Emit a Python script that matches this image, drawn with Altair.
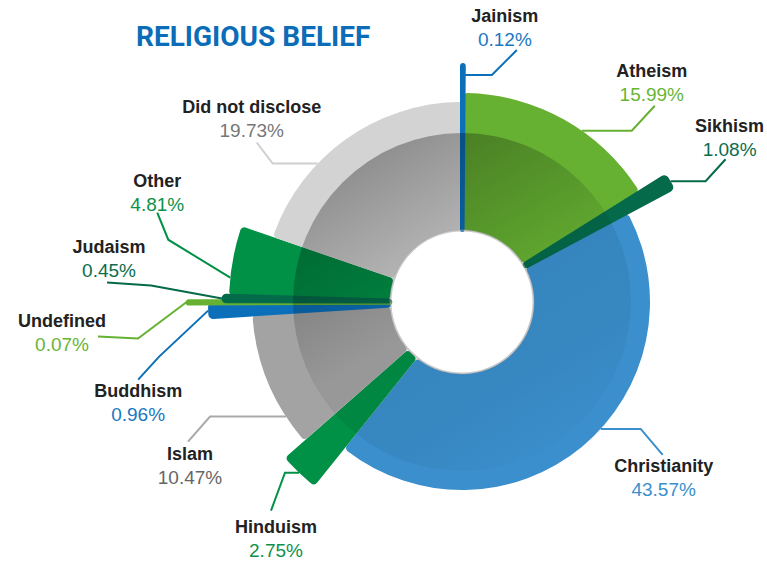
import math
import altair as alt
import pandas as pd

# ---------------- data ----------------
categories = ["Jainism", "Atheism", "Sikhism", "Christianity", "Hinduism", "Islam",
              "Buddhism", "Undefined", "Judaism", "Other", "Did not disclose"]
shares = [0.12, 15.99, 1.08, 43.57, 2.75, 10.47, 0.96, 0.07, 0.45, 4.81, 19.73]

# ---------------- style / layout ----------------
CX, CY = 462, 302
R_INNER = 72
R_SHADE = 169
outer_radius = {"Jainism": 237, "Atheism": 209, "Sikhism": 240, "Christianity": 188,
                "Hinduism": 236, "Islam": 210, "Buddhism": 253, "Undefined": 274,
                "Judaism": 239, "Other": 233, "Did not disclose": 200}
slice_color = {"Jainism": "#0b6fba", "Atheism": "#66b132", "Sikhism": "#046a4a",
               "Christianity": "#3a8fcc", "Hinduism": "#009046", "Islam": "#a3a3a3",
               "Buddhism": "#0b6fba", "Undefined": "#66b132", "Judaism": "#046a4a",
               "Other": "#009046", "Did not disclose": "#d3d3d3"}
pct_color = {"Jainism": "#1a78c2", "Atheism": "#69b536", "Sikhism": "#0b6d4e",
             "Christianity": "#3a8fcc", "Hinduism": "#0d914a", "Islam": "#666666",
             "Buddhism": "#1a78c2", "Undefined": "#69b536", "Judaism": "#0b6d4e",
             "Other": "#0d914a", "Did not disclose": "#777777"}
line_color = dict(slice_color)
line_color["Islam"] = "#a9a9a9"
line_color["Did not disclose"] = "#cfcfcf"
edge_width = {"Jainism": 4, "Sikhism": 2, "Buddhism": 2, "Undefined": 5, "Judaism": 3}

layout = {
    "Jainism": dict(frac=0.5, dr=-10, elbow=(29, 0), end=(25, -25), name=(-12, -33)),
    "Atheism": dict(frac=0.6, dr=0, elbow=(50, 0), end=(23, -25), name=(-3, -34)),
    "Sikhism": dict(frac=0.5, dr=1, elbow=(35, 0), end=(20, -22), name=(4, -32)),
    "Christianity": dict(frac=0.45, dr=0, elbow=(40, 0), end=(22, 26), name=(1, 12)),
    "Hinduism": dict(frac=0.5, dr=0, elbow=(-14, 0), end=(-14, 38), name=(5, 17)),
    "Islam": dict(frac=0.22, dr=0, elbow=(-76, 0), end=(-22, 25), name=(2, 13)),
    "Buddhism": dict(frac=0.5, dr=1, elbow=(-49, 46), end=(-21, 23), name=(0, 12)),
    "Undefined": dict(frac=0.5, dr=2, elbow=(-48, 36), end=(-40, -2), name=(-36, -14)),
    "Judaism": dict(frac=0.5, dr=1, elbow=(-71, -13), end=(-44, -3), name=(2, -34)),
    "Other": dict(frac=0.25, dr=0, elbow=(-62, -38), end=(-11, -27), name=(0, -31)),
    "Did not disclose": dict(frac=0.35, dr=0, elbow=(-45, 0), end=(-16, -21), name=(-5, -34)),
}

# ---------------- derived tables ----------------
total = sum(shares)
rows, line_rows, label_rows = [], [], []
cum = 0.0
for cat, v in zip(categories, shares):
    t0 = cum / total * 100
    t1 = (cum + v) / total * 100
    cum += v
    sw = edge_width.get(cat, 0)
    rows.append(dict(category=cat, share=v, t0=t0, t1=t1, r_out=outer_radius[cat],
                     fill=slice_color[cat], sw=sw, thin=1 if sw > 0 else 0))
    lay = layout[cat]
    th = 2 * math.pi * (t0 + lay["frac"] * (t1 - t0)) / 100
    r = outer_radius[cat] + lay["dr"]
    ax, ay = CX + r * math.sin(th), CY - r * math.cos(th)
    ex, ey = ax + lay["elbow"][0], ay + lay["elbow"][1]
    px, py = ex + lay["end"][0], ey + lay["end"][1]
    for i, (x, y) in enumerate([(ax, ay), (ex, ey), (px, py)]):
        line_rows.append(dict(category=cat, step=i, x=x, y=y, lcolor=line_color[cat]))
    nx, ny = px + lay["name"][0], py + lay["name"][1]
    label_rows.append(dict(category=cat, pct=f"{v:.2f}%", x=nx, y=ny, y2=ny + 23,
                           pcolor=pct_color[cat]))

slices_df = pd.DataFrame(rows).sort_values("thin", kind="stable")
lines_df = pd.DataFrame(line_rows)
labels_df = pd.DataFrame(label_rows)

# ---------------- chart ----------------
arcs = alt.Chart(slices_df).mark_arc(cornerRadius=4, strokeJoin="round").encode(
    x=alt.value(CX), y=alt.value(CY),
    theta=alt.Theta("t0:Q", stack=None,
                    scale=alt.Scale(domain=[0, 100], range=[0, 2 * math.pi])),
    theta2="t1:Q",
    radius=alt.Radius("r_out:Q", scale=None),
    radius2=alt.value(R_INNER),
    fill=alt.Fill("fill:N", scale=None),
    stroke=alt.Stroke("fill:N", scale=None),
    strokeWidth=alt.StrokeWidth("sw:Q", scale=None),
)

one = pd.DataFrame({"k": [0]})

shade = alt.Chart(one).mark_arc(
    theta=0, theta2=2 * math.pi, radius=R_SHADE, radius2=R_INNER,
    fill=alt.LinearGradient(
        gradient="linear", x1=0.2, y1=0, x2=0.8, y2=1,
        stops=[alt.GradientStop(color="rgba(0,0,0,0.36)", offset=0),
               alt.GradientStop(color="rgba(0,0,0,0.24)", offset=0.2),
               alt.GradientStop(color="rgba(0,0,0,0.07)", offset=0.5),
               alt.GradientStop(color="rgba(0,0,0,0.06)", offset=0.7),
               alt.GradientStop(color="rgba(0,0,0,0.0)", offset=1)]),
).encode(x=alt.value(CX), y=alt.value(CY))

hole_edge = alt.Chart(one).mark_arc(
    theta=0, theta2=2 * math.pi, radius=R_INNER + 0.5, radius2=R_INNER - 1.5,
    fill="#9a9a9a", opacity=0.55,
).encode(x=alt.value(CX), y=alt.value(CY))

lines = alt.Chart(lines_df).mark_line(strokeWidth=2).encode(
    x=alt.X("x:Q", scale=None, axis=None),
    y=alt.Y("y:Q", scale=None, axis=None),
    detail="category:N",
    order="step:Q",
    color=alt.Color("lcolor:N", scale=None),
)

names = alt.Chart(labels_df).mark_text(
    font="Liberation Sans", fontWeight="bold", fontSize=18, color="#222222",
    align="center", baseline="middle"
).encode(x=alt.X("x:Q", scale=None, axis=None), y=alt.Y("y:Q", scale=None, axis=None),
         text="category:N")

pcts = alt.Chart(labels_df).mark_text(
    font="Liberation Sans", fontSize=19, align="center", baseline="middle"
).encode(x=alt.X("x:Q", scale=None, axis=None), y=alt.Y("y2:Q", scale=None, axis=None),
         text="pct:N", color=alt.Color("pcolor:N", scale=None))

title = alt.Chart(pd.DataFrame({"t": ["RELIGIOUS BELIEF"]})).mark_text(
    font="Roboto", fontWeight="bold", fontSize=28, color="#0b6db7",
    align="left", baseline="middle"
).encode(x=alt.value(136), y=alt.value(38), text="t:N")

chart = alt.layer(arcs, shade, hole_edge, lines, names, pcts, title).properties(
    width=767, height=561, autosize=alt.AutoSizeParams(type="none"), padding=0
).configure_view(stroke=None)

chart.save("out.html", embed_options={"renderer": "svg", "actions": False})
